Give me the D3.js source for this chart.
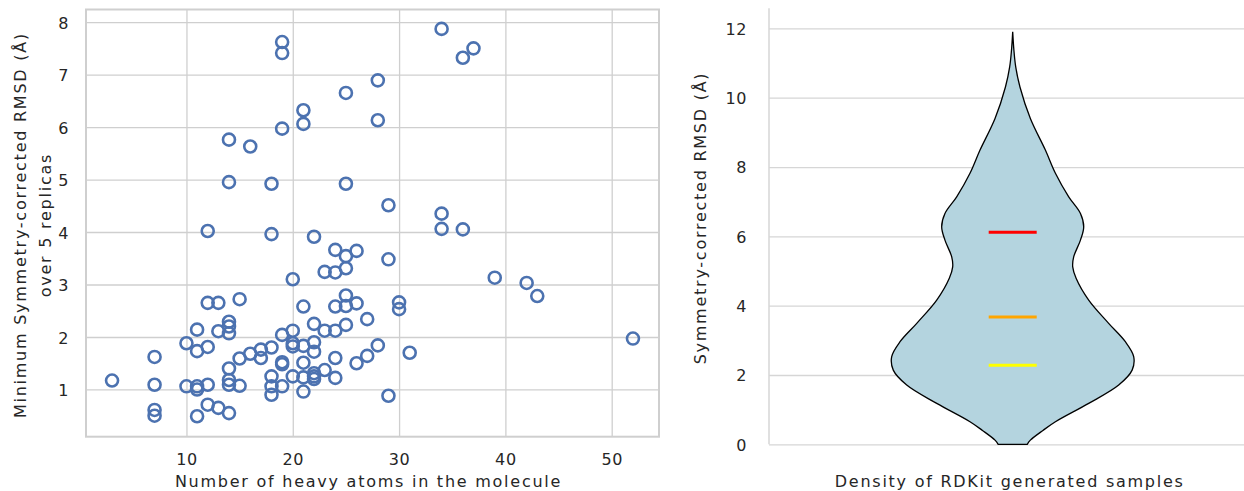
<!DOCTYPE html>
<html>
<head>
<meta charset="utf-8">
<script src="https://cdn.jsdelivr.net/npm/d3@7"></script>
<style>
	body { margin: 0; background: #fff; }
	text { font-family: "DejaVu Sans", sans-serif; fill: #262626; }
	.title { font-size: 16px; letter-spacing: 1.75px; }
</style>
</head>
<body>
<svg id="chart" width="1244" height="491"></svg>
<script>
// left panel: heavy atom count vs. min RMSD over 5 replicas
const heavyAtoms = [
	3,
	7, 7, 7, 7,
	10, 10,
	11, 11, 11, 11, 11,
	12, 12, 12, 12, 12,
	13, 13, 13,
	14, 14, 14, 14, 14, 14, 14, 14, 14,
	15, 15, 15,
	16, 16,
	17, 17,
	18, 18, 18, 18, 18, 18,
	19, 19, 19, 19, 19, 19, 19,
	20, 20, 20, 20, 20,
	21, 21, 21, 21, 21, 21, 21,
	22, 22, 22, 22, 22, 22, 22,
	23, 23, 23,
	24, 24, 24, 24, 24, 24,
	25, 25, 25, 25, 25, 25, 25,
	26, 26, 26,
	27, 27,
	28, 28, 28,
	29, 29, 29,
	30, 30,
	31,
	34, 34, 34,
	36, 36,
	37, 39, 42, 43, 52
];
const minRmsd = [
	1.17,
	1.62, 1.09, 0.61, 0.50,
	1.88, 1.06,
	2.14, 1.73, 1.06, 1.00, 0.49,
	4.02, 2.65, 1.81, 1.09, 0.71,
	2.65, 2.11, 0.65,
	5.76, 4.95, 2.29, 2.20, 2.07, 1.40, 1.18, 1.09, 0.55,
	2.72, 1.59, 1.07,
	5.63, 1.68,
	1.76, 1.60,
	4.92, 3.96, 1.80, 1.25, 1.06, 0.90,
	7.62, 7.41, 5.97, 2.04, 1.52, 1.48, 1.06,
	3.10, 2.12, 1.88, 1.82, 1.25,
	6.32, 6.06, 2.58, 1.83, 1.51, 1.23, 0.96,
	3.91, 2.25, 1.90, 1.72, 1.31, 1.25, 1.20,
	3.24, 2.12, 1.37,
	3.66, 3.23, 2.58, 2.12, 1.60, 1.22,
	6.65, 4.92, 3.54, 3.31, 2.79, 2.59, 2.23,
	3.64, 2.64, 1.50,
	2.34, 1.64,
	6.89, 6.13, 1.84,
	4.51, 3.48, 0.88,
	2.66, 2.53,
	1.70,
	7.87, 4.35, 4.06,
	7.32, 4.05,
	7.50, 3.13, 3.03, 2.78, 1.97
];
const scatterXTicks = [10, 20, 30, 40, 50];
const scatterYTicks = [1, 2, 3, 4, 5, 6, 7, 8];

// right panel: KDE outline of RDKit samples (rmsd level, relative half width)
const densityLevels = [0, 0.12, 0.4, 0.65, 1.18, 1.71, 2.14, 2.53, 2.96, 3.49, 4.16, 4.79, 5.12, 5.41, 5.89, 6.28, 6.66, 7.14, 7.82, 8.49, 9.40, 10.31, 10.89, 11.37, 11.9];
const densityWidths = [0.12, 0.146, 0.25, 0.353, 0.628, 0.876, 0.987, 1.0, 0.931, 0.793, 0.628, 0.524, 0.496, 0.504, 0.560, 0.587, 0.560, 0.463, 0.353, 0.270, 0.146, 0.060, 0.025, 0.010, 0];
const statValues = [6.12, 3.67, 2.28];
const violinTicks = [0, 2, 4, 6, 8, 10, 12];

const statColors = ["#ff0000", "#ffa500", "#ffff00"];
const gridColor = "#cfcfcf";

let svg = d3.select("#chart");

// ---------- scatter ----------
let left = { x0: 86, x1: 659, y0: 9.5, y1: 436.7 };

let x = d3.scaleLinear().domain([0.55, 54.45]).range([left.x0, left.x1]);
let y = d3.scaleLinear().domain([0.1, 8.24]).range([left.y1, left.y0]);

let gl = svg.append("g");

let xAxis = gl.append("g")
	.attr("transform", "translate(0," + left.y1 + ")")
	.call(d3.axisBottom(x).tickValues(scatterXTicks).tickSize(-(left.y1 - left.y0)).tickPadding(17));

let yAxis = gl.append("g")
	.attr("transform", "translate(" + left.x0 + ",0)")
	.call(d3.axisLeft(y).tickValues(scatterYTicks).tickSize(-(left.x1 - left.x0)).tickPadding(17));

[xAxis, yAxis].forEach((ax) => {
	ax.select(".domain").remove();
	ax.selectAll("line").attr("stroke", gridColor).attr("stroke-width", 1.3);
	ax.selectAll("text").style("font-size", "16px").style("letter-spacing", "0.6px").attr("fill", "#262626");
});
yAxis.selectAll("text").attr("dy", "0.4em");

gl.append("rect")
	.attr("x", left.x0)
	.attr("y", left.y0)
	.attr("width", left.x1 - left.x0)
	.attr("height", left.y1 - left.y0)
	.attr("fill", "none")
	.attr("stroke", gridColor)
	.attr("stroke-width", 2);

gl.selectAll("circle")
	.data(d3.range(heavyAtoms.length))
	.enter().append("circle")
	.attr("cx", (i) => x(heavyAtoms[i]))
	.attr("cy", (i) => y(minRmsd[i]))
	.attr("r", 6)
	.attr("fill", "none")
	.attr("stroke", "#4c72b0")
	.attr("stroke-width", 2.6);

gl.append("text")
	.attr("class", "title")
	.attr("x", (left.x0 + left.x1) / 2 - 4)
	.attr("y", 487)
	.attr("text-anchor", "middle")
	.text("Number of heavy atoms in the molecule");

let yTitle = gl.append("text")
	.attr("class", "title")
	.attr("transform", "translate(26," + ((left.y0 + left.y1) / 2 + 2) + ") rotate(-90)")
	.attr("text-anchor", "middle");
yTitle.append("tspan").attr("x", 0).attr("y", 0).text("Minimum Symmetry-corrected RMSD (Å)");
yTitle.append("tspan").attr("x", 0).attr("y", 24.5).text("over 5 replicas");

// ---------- violin ----------
let right = { x0: 769, x1: 1244, y0: 8.3, y1: 444.3, cx: 1012.7 };

let yv = d3.scaleLinear().domain([0, 12.58]).range([right.y1, right.y0]);
let wv = d3.scaleLinear().domain([0, 1]).range([0, 121]);

let gr = svg.append("g");

let vAxis = gr.append("g")
	.attr("transform", "translate(" + right.x0 + ",0)")
	.call(d3.axisLeft(yv).tickValues(violinTicks).tickSize(-(right.x1 - right.x0)).tickPadding(22));
vAxis.select(".domain").remove();
vAxis.selectAll("line").attr("stroke", "#d6d6d6").attr("stroke-width", 1.3);
vAxis.selectAll("text").style("font-size", "16px").style("letter-spacing", "0.6px").attr("fill", "#262626").attr("dy", "0.36em");

gr.append("line")
	.attr("x1", right.x0).attr("x2", right.x0)
	.attr("y1", right.y0).attr("y2", right.y1)
	.attr("stroke", "#d6d6d6")
	.attr("stroke-width", 1.5);

let violinArea = d3.area()
	.y((i) => yv(densityLevels[i]))
	.x0((i) => right.cx - wv(densityWidths[i]))
	.x1((i) => right.cx + wv(densityWidths[i]))
	.curve(d3.curveCatmullRom);

gr.append("path")
	.attr("d", violinArea(d3.range(densityLevels.length)))
	.attr("fill", "#b4d4df")
	.attr("stroke", "#000")
	.attr("stroke-width", 1.3);

gr.selectAll(".stat")
	.data(statValues)
	.enter().append("line")
	.attr("class", "stat")
	.attr("x1", right.cx - 24)
	.attr("x2", right.cx + 24)
	.attr("y1", (d) => yv(d))
	.attr("y2", (d) => yv(d))
	.attr("stroke", (d, i) => statColors[i])
	.attr("stroke-width", 3);

gr.append("text")
	.attr("class", "title")
	.attr("x", right.cx - 3)
	.attr("y", 487)
	.attr("text-anchor", "middle")
	.text("Density of RDKit generated samples");

gr.append("text")
	.attr("class", "title")
	.attr("transform", "translate(706,218) rotate(-90)")
	.attr("text-anchor", "middle")
	.text("Symmetry-corrected RMSD (Å)");
</script>
</body>
</html>
